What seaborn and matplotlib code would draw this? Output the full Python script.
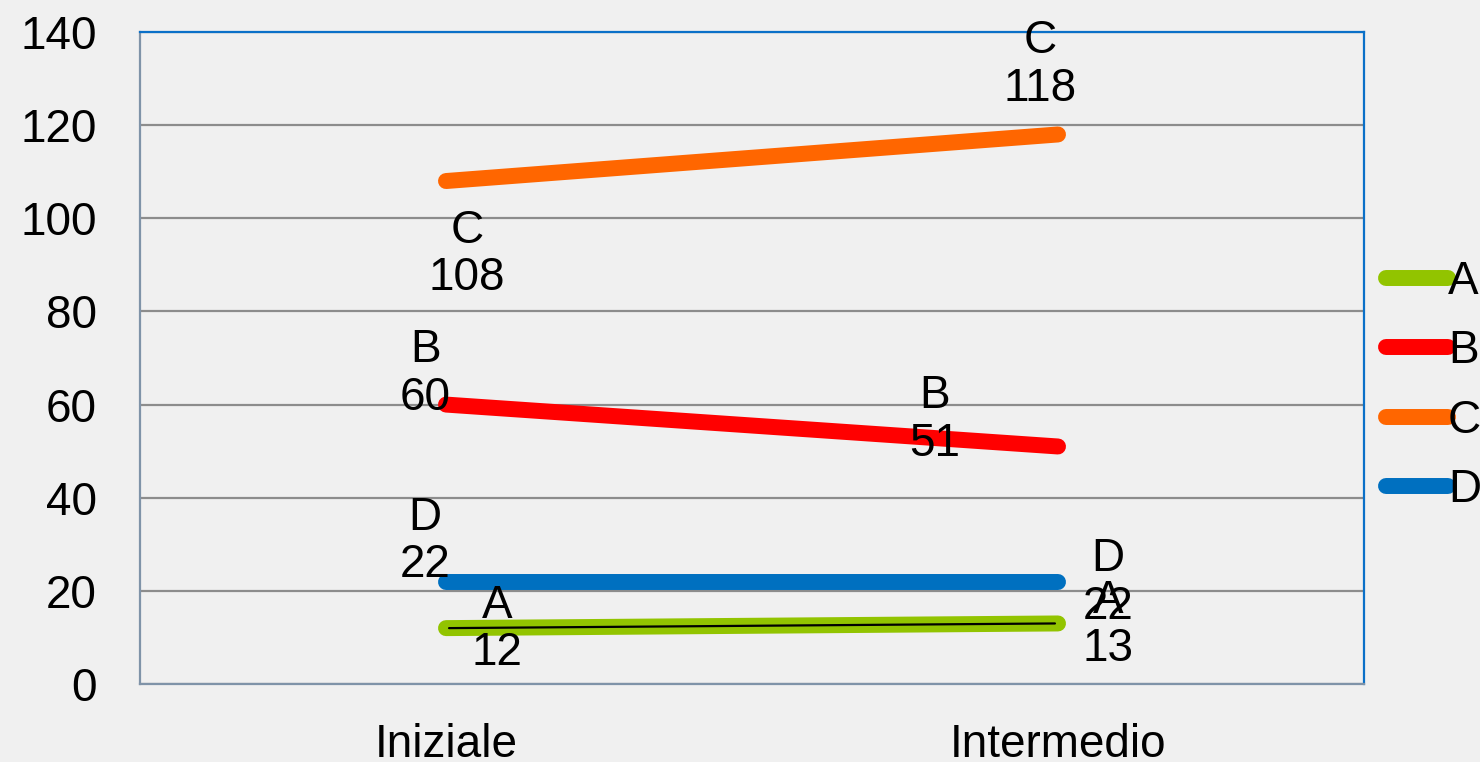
import pandas as pd
import seaborn as sns
import matplotlib.pyplot as plt

phases = ['Iniziale', 'Intermedio']
series = ['A', 'B', 'C', 'D']
a_vals = [12, 13]
b_vals = [60, 51]
c_vals = [108, 118]
d_vals = [22, 22]
colors = ['#92c400', '#ff0000', '#ff6600', '#0070c0']
yticks = [0, 20, 40, 60, 80, 100, 120, 140]

# label offsets in points (Excel put them all over the place)
offsets = {
    ('A', 0): (37, -1), ('A', 1): (36, -1),
    ('B', 0): (-15, 22), ('B', 1): (-89, 19),
    ('C', 0): (15, -53), ('C', 1): (-13, 50),
    ('D', 0): (-15, 29), ('D', 1): (36, -1),
}


def plot():
    df = pd.DataFrame({
        'fase': phases * 4,
        'valore': a_vals + b_vals + c_vals + d_vals,
        'serie': [s for s in series for _ in phases],
    })

    sns.set_style('white', {'text.color': 'black', 'xtick.color': 'black',
                            'ytick.color': 'black'})
    plt.rcParams['font.family'] = ['Liberation Sans', 'DejaVu Sans']

    fig = plt.figure(figsize=(14.8, 7.62), dpi=100)
    fig.patch.set_facecolor('#f0f0f0')
    ax = fig.add_axes([140 / 1480, 1 - 684 / 762, 1224 / 1480, 652 / 762])
    ax.set_facecolor('#f0f0f0')

    sns.lineplot(data=df, x='fase', y='valore', hue='serie', hue_order=series,
                 palette=colors, linewidth=11.5, solid_capstyle='round', ax=ax)
    # thin black line over A
    sns.lineplot(data=df[df['serie'] == 'A'], x='fase', y='valore', color='black',
                 linewidth=1.6, legend=False, ax=ax)
    ax.lines[-1].set_data([0.005, 0.995], a_vals)

    for s in series:
        sub = df[df['serie'] == s].reset_index(drop=True)
        for i, row in sub.iterrows():
            ax.annotate(f"{s}\n{row['valore']}", (i, row['valore']),
                        xytext=offsets[(s, i)], textcoords='offset points',
                        ha='center', va='center', fontsize=33, linespacing=1.1,
                        color='black')

    ax.set_xlim(-0.5, 1.5)
    ax.set_ylim(0, 140)
    ax.set_yticks(yticks)
    ax.yaxis.grid(True, color='#8c8c8c', linewidth=1.6)
    ax.set_axisbelow(True)
    ax.tick_params(axis='both', length=0, labelsize=33, labelcolor='black')
    ax.tick_params(axis='x', pad=28)
    ax.tick_params(axis='y', pad=31)
    ax.set_xlabel('')
    ax.set_ylabel('')

    for side in ['left', 'bottom']:
        ax.spines[side].set_color('#7f93a8')
        ax.spines[side].set_linewidth(1.6)
    for side in ['top', 'right']:
        ax.spines[side].set_color('#0a70c8')
        ax.spines[side].set_linewidth(1.6)

    handles, labels = ax.get_legend_handles_labels()
    leg = ax.legend(handles[:4], labels[:4], loc='center left',
                    bbox_to_anchor=(1386 / 1480, 1 - 386 / 762),
                    bbox_transform=fig.transFigure, frameon=False,
                    fontsize=33, handlelength=1.35, handletextpad=0.0,
                    labelspacing=0.55, borderpad=0, borderaxespad=0)
    for text in leg.get_texts():
        text.set_color('black')
    for line in leg.get_lines():
        line.set_linewidth(11.5)
        line.set_solid_capstyle('round')

    fig.savefig('out.png', dpi=100, facecolor=fig.get_facecolor())


if __name__ == "__main__":
    plot()
